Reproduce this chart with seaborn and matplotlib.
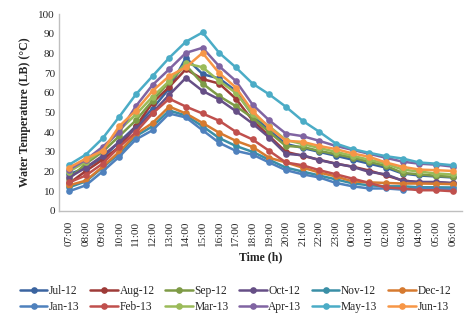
import numpy as np
import pandas as pd
import matplotlib
matplotlib.use("Agg")
import matplotlib.pyplot as plt
import seaborn as sns

hours = ["07:00", "08:00", "09:00", "10:00", "11:00", "12:00", "13:00", "14:00",
         "15:00", "16:00", "17:00", "18:00", "19:00", "20:00", "21:00", "22:00",
         "23:00", "00:00", "01:00", "02:00", "03:00", "04:00", "05:00", "06:00"]

months = ["Jul-12", "Aug-12", "Sep-12", "Oct-12", "Nov-12", "Dec-12",
          "Jan-13", "Feb-13", "Mar-13", "Apr-13", "May-13", "Jun-13"]

jul12 = [18.6, 22, 27, 35, 43, 52, 62.2, 77.8, 69.5, 67.3, 61, 48.6, 41, 34, 32, 30, 28, 26, 24, 22, 19, 18, 17.5, 17]
aug12 = [14, 20.3, 26, 32.5, 43, 55, 63, 72, 67, 64.7, 57, 46, 38, 30, 28, 26, 24, 22.5, 20.5, 18, 15.5, 14.5, 14.5, 14]
sep12 = [16.4, 24, 30, 38, 46, 56, 65.6, 74, 64.7, 58.3, 53.2, 47.3, 40, 33, 32.5, 30.5, 28.8, 27.1, 24.9, 22.9, 19.3, 18.6, 17.8, 17.3]
oct12 = [17, 22, 28, 35, 42, 50, 59, 67.6, 61, 56.6, 50.7, 44.4, 37.3, 29, 28.3, 25.8, 24, 22.4, 19.8, 18.6, 15.3, 14.7, 14.7, 14.2]
nov12 = [12, 15, 22, 29, 38, 43, 51, 48.5, 43, 37, 33, 30, 26, 22, 20, 18, 16, 14, 13, 12.5, 12.5, 12, 12, 11.9]
dec12 = [13, 15.4, 22.4, 30, 39, 44.7, 53, 49.5, 44.7, 39.7, 35.6, 32.5, 27, 24.6, 22, 19.5, 17.5, 15, 14.5, 14.2, 13.9, 13.9, 13.8, 13.6]
jan13 = [10, 13, 20, 27.5, 36.3, 41, 49.5, 47.5, 41, 34.6, 30.5, 28.6, 24.6, 20.7, 18.6, 17, 14.2, 12.5, 11.4, 11.4, 10.8, 11.4, 11.2, 11]
feb13 = [14.5, 18, 24, 32.5, 40, 49.5, 57, 53, 49.5, 45.8, 40.2, 36.3, 30.5, 24.6, 23.2, 20.7, 18.6, 16.4, 14.2, 11.9, 11.4, 10.5, 10.5, 10]
mar13 = [20, 25, 31, 41, 49, 58, 66, 75, 73, 66, 60, 49, 43, 36, 34, 32, 30, 28, 26, 24, 21, 20, 19, 18.5]
apr13 = [21, 26, 32.5, 40, 53.2, 64, 72, 80.3, 82.9, 73.5, 66, 54, 46, 39.3, 38, 35.6, 33, 31, 29, 27, 25, 24, 23.5, 22.5]
may13 = [23.5, 28.6, 36.8, 47.8, 59.2, 68.5, 77.8, 86, 90.7, 80.3, 72.9, 64.7, 59.2, 52.9, 45.8, 40.2, 34.2, 31.4, 29.5, 27.8, 26.6, 24.6, 24, 23.2]
jun13 = [22, 26.6, 30.5, 43, 51, 61, 68.5, 73, 80.3, 70, 62.7, 50.7, 42.4, 35.6, 35.1, 33, 31.4, 29.2, 27.5, 24.6, 22.4, 21, 20.7, 20.3]

series = [jul12, aug12, sep12, oct12, nov12, dec12, jan13, feb13, mar13, apr13, may13, jun13]
colors = ["#3B64A0", "#9E3B38", "#7E9B46", "#664F86", "#3A8FA6", "#D67A30",
          "#4F81BD", "#C0504D", "#9BBB59", "#8064A2", "#4BACC6", "#F79646"]

rows = []
for m, vals in zip(months, series):
    for i, v in enumerate(vals):
        rows.append({"hour": i, "month": m, "temp": v})
df = pd.DataFrame(rows)

sns.set_style("white")
plt.rcParams["font.family"] = ["Liberation Serif", "DejaVu Serif"]

fig = plt.figure(figsize=(4.66, 3.21), dpi=100)
ax = fig.add_axes([0.127, 0.343, 0.864, 0.613])

sns.lineplot(data=df, x="hour", y="temp", hue="month", hue_order=months,
             palette=colors, marker="o", markersize=4.8, markeredgewidth=0,
             linewidth=1.8, ax=ax)

ax.set_xlim(-0.6, 23.55)
ax.set_ylim(0, 100)
ax.set_yticks(range(0, 101, 10))
ax.set_xticks(range(len(hours)))
ax.set_xticklabels(hours, rotation=90)
ax.tick_params(axis="y", labelsize=8, length=0, pad=3)
ax.tick_params(axis="x", labelsize=8, length=0, pad=7)
ax.set_xlabel("Time (h)", fontsize=8.5, fontweight="bold", labelpad=4)
ax.set_ylabel("Water Temperature (LB) (°C)", fontsize=8.5, fontweight="bold", labelpad=5)

for s in ["top", "right"]:
    ax.spines[s].set_visible(False)
for s in ["left", "bottom"]:
    ax.spines[s].set_color("#BFBFBF")
    ax.spines[s].set_linewidth(1.0)

# legend fills row by row: reorder for matplotlib's column-first layout
handles, labels = ax.get_legend_handles_labels()
order = [0, 6, 1, 7, 2, 8, 3, 9, 4, 10, 5, 11]
ax.legend([handles[i] for i in order], [labels[i] for i in order],
          ncol=6, loc="center", bbox_to_anchor=(0.505, 0.068),
          bbox_transform=fig.transFigure, frameon=False, fontsize=8.3,
          handlelength=2.4, handletextpad=0.15, columnspacing=0.9,
          labelspacing=0.35, borderaxespad=0)

fig.savefig("out.png", dpi=100)
